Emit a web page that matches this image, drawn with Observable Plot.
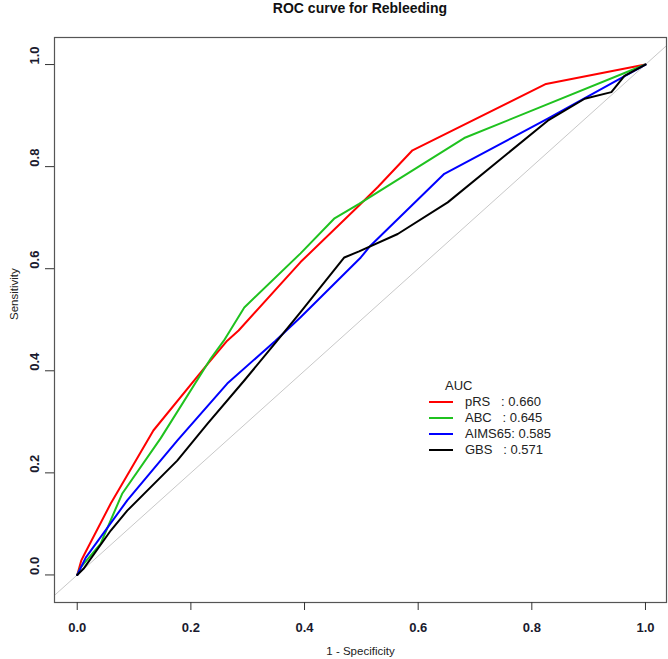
<!DOCTYPE html>
<html><head><meta charset="utf-8">
<script src="https://cdn.jsdelivr.net/npm/d3@7"></script>
<script src="https://cdn.jsdelivr.net/npm/@observablehq/plot@0.6"></script>
<style>
body{margin:0;background:#fff;font-family:"Liberation Sans",Arial,sans-serif;}
#wrap{position:relative;width:668px;height:659px;overflow:hidden;}
#title{position:absolute;left:54px;width:612px;top:0;text-align:center;font-weight:bold;font-size:14px;line-height:16px;color:#111;}
#chart{position:absolute;left:0;top:20px;}
#legend{position:absolute;left:429px;top:378px;font-size:13px;color:#222;}
#legend .hd{height:16px;line-height:16px;padding-left:16px;}
#legend .row{height:16px;line-height:16px;display:flex;align-items:center;white-space:pre;}
#legend .sw{width:24px;height:2px;margin-right:12px;}
</style></head>
<body>
<div id="wrap">
  <div id="title">ROC curve for Rebleeding</div>
  <div id="chart"></div>
  <div id="legend"></div>
</div>
<script>
// Series names, colours and AUC values
const seriesNames = ["pRS", "ABC", "AIMS65", "GBS"];
const seriesLabels = ["pRS   ", "ABC   ", "AIMS65", "GBS   "];
const seriesColors = ["#ff0000", "#1fc21f", "#0000ff", "#000000"];
const aucValues = ["0.660", "0.645", "0.585", "0.571"];

// ROC points (1 - specificity, sensitivity)
const fprRS  = [0, 0.007, 0.012, 0.059, 0.134, 0.230, 0.264, 0.284, 0.393, 0.496, 0.529, 0.590, 0.825, 1];
const tprRS  = [0, 0.028, 0.039, 0.140, 0.283, 0.414, 0.459, 0.479, 0.613, 0.724, 0.760, 0.832, 0.962, 1];
const fprABC = [0, 0.006, 0.041, 0.079, 0.147, 0.235, 0.258, 0.294, 0.393, 0.452, 0.496, 0.681, 1];
const tprABC = [0, 0.015, 0.061, 0.159, 0.268, 0.424, 0.459, 0.524, 0.630, 0.698, 0.727, 0.856, 1];
const fprAIMS = [0, 0.015, 0.088, 0.176, 0.264, 0.349, 0.393, 0.499, 0.516, 0.646, 0.828, 1];
const tprAIMS = [0, 0.034, 0.146, 0.263, 0.375, 0.459, 0.505, 0.622, 0.645, 0.786, 0.894, 1];
const fprGBS = [0, 0.011, 0.059, 0.088, 0.176, 0.229, 0.294, 0.352, 0.393, 0.470, 0.496, 0.564, 0.652, 0.828, 0.893, 0.940, 0.963, 1];
const tprGBS = [0, 0.012, 0.087, 0.126, 0.224, 0.296, 0.381, 0.459, 0.515, 0.622, 0.634, 0.668, 0.730, 0.890, 0.933, 0.946, 0.978, 1];

const xTicks = [0, 0.2, 0.4, 0.6, 0.8, 1.0];
const yTicks = [0, 0.2, 0.4, 0.6, 0.8, 1.0];
const xDomain = [-0.04, 1.037];
const yDomain = [-0.054, 1.053];

const fprs = [fprRS, fprABC, fprAIMS, fprGBS];
const tprs = [tprRS, tprABC, tprAIMS, tprGBS];
const rows = [];
seriesNames.forEach((s, i) => fprs[i].forEach((f, j) => rows.push({series: s, fpr: f, tpr: tprs[i][j]})));
const drawOrder = ["pRS", "ABC", "AIMS65", "GBS"];

const fmt = d => d.toFixed(1);
const chart = Plot.plot({
  width: 668, height: 639,
  marginTop: 17, marginBottom: 57, marginLeft: 54, marginRight: 2,
  x: {domain: xDomain, axis: null},
  y: {domain: yDomain, axis: null},
  color: {domain: seriesNames, range: seriesColors},
  style: {fontFamily: "Liberation Sans, Arial, sans-serif", background: "#fff"},
  marks: [
    Plot.line([-0.1, 1.1], {x: d => d, y: d => d, stroke: "#c8c8c8", strokeWidth: 1, clip: true}),
    ...drawOrder.map(s => Plot.line(rows.filter(r => r.series === s), {x: "fpr", y: "tpr", stroke: "series", strokeWidth: 2, clip: true})),
    Plot.frame({stroke: "#555", strokeWidth: 1.2}),
    Plot.axisX({ticks: xTicks, tickSize: 8, stroke: "#333", anchor: "bottom", tickFormat: () => "", label: null}),
    Plot.axisY({ticks: yTicks, tickSize: 9, stroke: "#333", anchor: "left", tickFormat: () => "", label: null}),
    Plot.text(xTicks, {x: d => d, frameAnchor: "bottom", dy: 25, text: fmt, fontSize: 13, fontWeight: "bold", fill: "#1a1a2e", lineAnchor: "middle"}),
    Plot.text(yTicks, {y: d => d, frameAnchor: "left", dx: -20, rotate: -90, text: fmt, fontSize: 13, fontWeight: "bold", fill: "#1a1a2e", lineAnchor: "middle"}),
    Plot.text(["1 - Specificity"], {frameAnchor: "bottom", dy: 49, fontSize: 11.5, fill: "#222", lineAnchor: "middle"}),
    Plot.text(["Sensitivity"], {frameAnchor: "left", dx: -40, rotate: -90, fontSize: 11.5, fill: "#222", lineAnchor: "middle"})
  ]
});
document.getElementById("chart").appendChild(chart);

const leg = document.getElementById("legend");
leg.innerHTML = `<div class="hd">AUC</div>` + seriesNames.map((s, i) =>
  `<div class="row"><span class="sw" style="background:${seriesColors[i]}"></span><span>${seriesLabels[i]}: ${aucValues[i]}</span></div>`).join("");
</script>
</body></html>
